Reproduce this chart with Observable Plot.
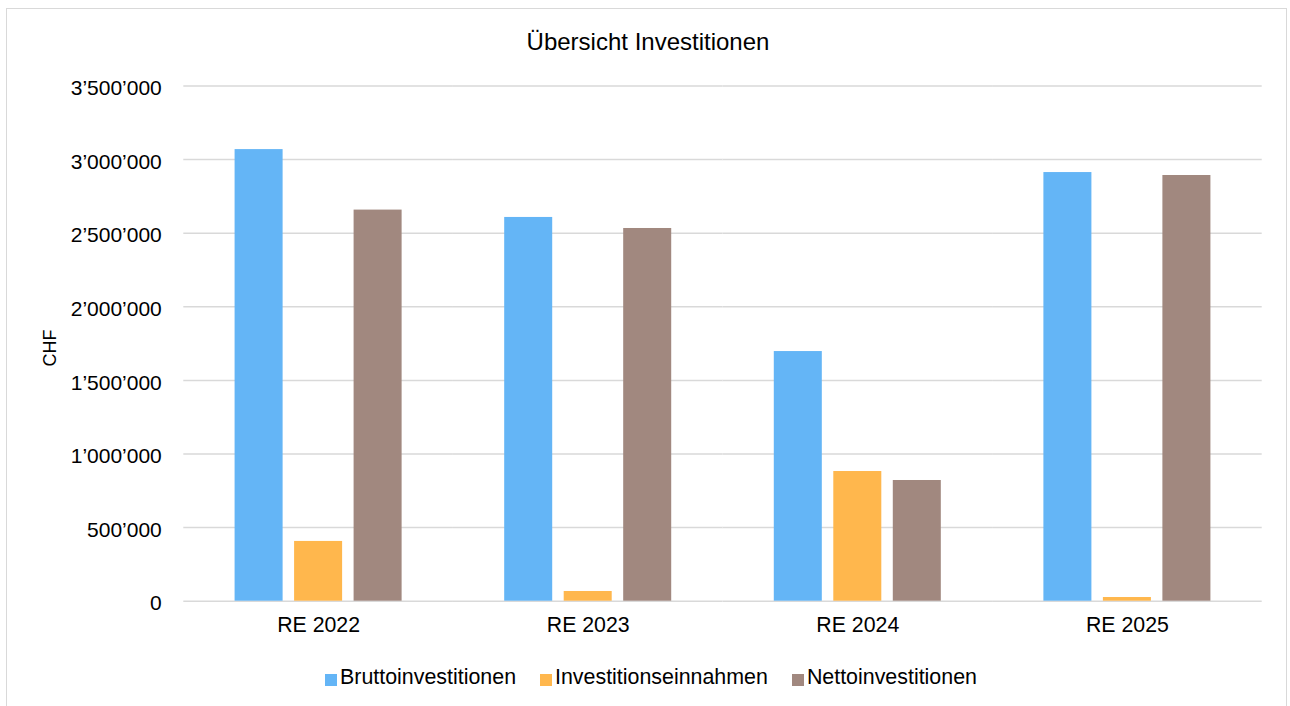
<!DOCTYPE html>
<html>
<head>
<meta charset="utf-8">
<script src="https://cdn.jsdelivr.net/npm/d3@7"></script>
<script src="https://cdn.jsdelivr.net/npm/@observablehq/plot@0.6"></script>
<style>
  html, body { margin: 0; padding: 0; background: #fff; }
  body { width: 1290px; height: 706px; position: relative; overflow: hidden; font-family: "Liberation Sans", Arial, sans-serif; color: #000; }
  #frame { position: absolute; left: 6px; top: 8px; width: 1281px; height: 710px; border: 1.5px solid #d9d9d9; box-sizing: border-box; }
  #title { position: absolute; left: 0; width: 1296px; top: 28px; text-align: center; font-size: 24px; line-height: 28px; }
  #chart { position: absolute; left: 0; top: 60px; }
  #ylabel { position: absolute; left: 49.5px; top: 347.5px; transform: translate(-50%, -50%) rotate(-90deg); font-size: 18px; line-height: 20px; white-space: nowrap; }
  #legend { position: absolute; left: 0; width: 1302px; top: 663.5px; display: flex; justify-content: center; font-size: 21.4px; line-height: 26px; }
  .item { display: flex; align-items: center; margin: 0 12px; }
  .sw { width: 12px; height: 12px; margin-right: 3px; position: relative; top: 3px; }
</style>
</head>
<body>
<div id="frame"></div>
<div id="title">Übersicht Investitionen</div>
<div id="ylabel">CHF</div>
<div id="chart"></div>
<div id="legend"></div>
<script>
const categories = ["RE 2022", "RE 2023", "RE 2024", "RE 2025"];
const series = ["Bruttoinvestitionen", "Investitionseinnahmen", "Nettoinvestitionen"];
const brutto = [3068000, 2607000, 1696000, 2912000];
const einnahmen = [406000, 66000, 881000, 25000];
const netto = [2657000, 2532000, 820000, 2892000];
const colors = ["#64B5F6", "#FFB74D", "#A1887F"];
const yTicks = [0, 500000, 1000000, 1500000, 2000000, 2500000, 3000000, 3500000];

const values = [brutto, einnahmen, netto];
const data = [];
categories.forEach((c, i) => series.forEach((s, j) => data.push({category: c, series: s, value: values[j][i]})));

const locale = d3.formatLocale({decimal: ".", thousands: "\u2019", grouping: [3], currency: ["", ""]});
const fmt = locale.format(",d");

const chart = Plot.plot({
  width: 1290,
  height: 600,
  marginLeft: 183.3,
  marginRight: 28.3,
  marginTop: 25.5,
  marginBottom: 59.3,
  style: {fontFamily: "Liberation Sans, Arial, sans-serif", fontSize: "21px", color: "#000", background: "transparent"},
  fx: {domain: categories, padding: 0, round: false, label: null, axis: null},
  x: {domain: series, paddingInner: 0.193, paddingOuter: 0.862, round: false, axis: null},
  y: {domain: [0, 3500000], axis: null},
  color: {domain: series, range: colors},
  marks: [
    Plot.ruleY(yTicks, {stroke: "#d9d9d9", strokeWidth: 1.5}),
    Plot.barY(data, {fx: "category", x: "series", y: "value", fill: "series"}),
    Plot.axisY({ticks: yTicks, tickFormat: fmt, tickSize: 0, tickPadding: 22, dy: 2.5, label: null, fontSize: 21, fill: "#000"}),
    Plot.axisFx({anchor: "bottom", tickSize: 0, tickPadding: 15.5, label: null, fontSize: 21.3, fill: "#000"})
  ]
});
document.getElementById("chart").appendChild(chart);

const legend = document.getElementById("legend");
series.forEach((s, i) => {
  const it = document.createElement("div");
  it.className = "item";
  const sw = document.createElement("div");
  sw.className = "sw";
  sw.style.background = colors[i];
  const t = document.createElement("span");
  t.textContent = s;
  it.appendChild(sw);
  it.appendChild(t);
  legend.appendChild(it);
});
</script>
</body>
</html>
